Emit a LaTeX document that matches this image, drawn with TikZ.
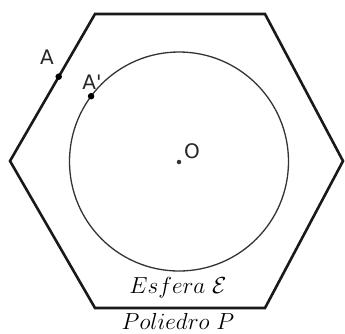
\documentclass[tikz,border=0pt]{standalone}
\usepackage{fontspec}
\newfontfamily\labfont{DejaVu Sans}
\begin{document}
\begin{tikzpicture}[x=1pt,y=-1pt,
  dot/.style={circle,fill=black,inner sep=0pt,minimum size=6.5pt},
  smalldot/.style={circle,fill=black!80,inner sep=0pt,minimum size=4.5pt},
  lab/.style={font=\labfont\fontsize{20}{20}\selectfont,inner sep=0pt,text=black!85},
  mlab/.style={font=\fontsize{20}{20}\selectfont,inner sep=0pt,anchor=base}]
\useasboundingbox (0,0) rectangle (345,333);
\coordinate (h1) at (95,14);
\coordinate (h2) at (265,14);
\coordinate (h3) at (343,161);
\coordinate (h4) at (265,308);
\coordinate (h5) at (95,308);
\coordinate (h6) at (10,161);
\draw[line width=2.6pt,black!90,line join=miter] (h1)--(h2)--(h3)--(h4)--(h5)--(h6)--cycle;
\coordinate (C) at (179,161.5);
\draw[line width=1.3pt,black!80] (C) circle[radius=109.5];
\node[dot] (A) at (58.7,76.7) {};
\node[dot] (Ap) at (91.1,96.2) {};
\node[smalldot] (O) at (179,162) {};
\node[lab] (Alab) at (47,57) {A};
\node[lab] (Aplab) at (92,82) {A'};
\node[lab] (Olab) at (192,151) {O};
\node[mlab] (esf) at (178,293) {\scalebox{1.12}{$Esfera\ \mathcal{E}$}};
\node[mlab] (pol) at (178,329.5) {\scalebox{1.12}{$Poliedro\ P$}};
\end{tikzpicture}
\end{document}
